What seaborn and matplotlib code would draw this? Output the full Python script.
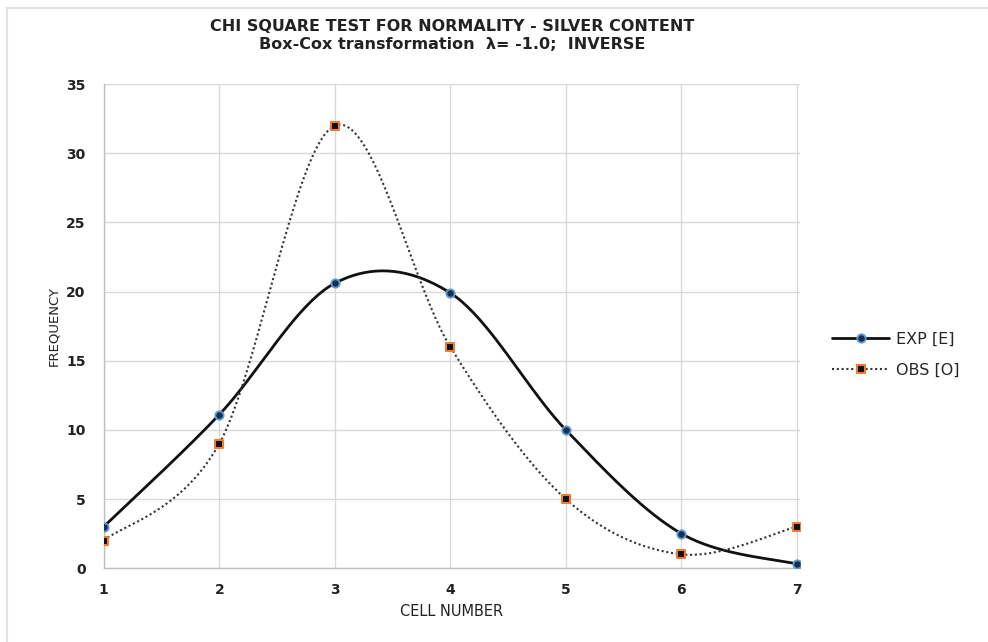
import numpy as np
import pandas as pd
import matplotlib
matplotlib.use("Agg")
import matplotlib.pyplot as plt
from matplotlib.lines import Line2D
import seaborn as sns

cells = [1, 2, 3, 4, 5, 6, 7]
exp_vals = [3.0, 11.1, 20.6, 19.9, 10.0, 2.5, 0.3]
obs_vals = [2, 9, 32, 16, 5, 1, 3]
y_ticks = [0, 5, 10, 15, 20, 25, 30, 35]

title = "CHI SQUARE TEST FOR NORMALITY - SILVER CONTENT\nBox-Cox transformation  \u03bb= -1.0;  INVERSE"


def smooth(xs, ys, n=40):
    # Catmull-Rom style smoothing as used by spreadsheet "smoothed lines"
    xs = np.asarray(xs, float)
    ys = np.asarray(ys, float)
    px = np.concatenate([[xs[0]], xs, [xs[-1]]])
    py = np.concatenate([[ys[0]], ys, [ys[-1]]])
    ox, oy = [], []
    for i in range(1, len(px) - 2):
        p0 = np.array([px[i - 1], py[i - 1]])
        p1 = np.array([px[i], py[i]])
        p2 = np.array([px[i + 1], py[i + 1]])
        p3 = np.array([px[i + 2], py[i + 2]])
        c1 = p1 + (p2 - p0) / 6.0
        c2 = p2 - (p3 - p1) / 6.0
        t = np.linspace(0, 1, n)[:, None]
        b = ((1 - t) ** 3) * p1 + 3 * ((1 - t) ** 2) * t * c1 + 3 * (1 - t) * t ** 2 * c2 + t ** 3 * p2
        ox.extend(b[:, 0]); oy.extend(b[:, 1])
    return np.array(ox), np.array(oy)


sns.set_theme(style="white")
plt.rcParams['font.family'] = ['DejaVu Sans']

fig = plt.figure(figsize=(9.88, 6.42), dpi=100)
ax = fig.add_axes([0.105, 0.115, 0.705, 0.754])

ex, ey = smooth(cells, exp_vals)
ox, oy = smooth(cells, obs_vals)
df_e = pd.DataFrame({"x": ex, "y": ey})
df_o = pd.DataFrame({"x": ox, "y": oy})

sns.lineplot(data=df_e, x="x", y="y", sort=False, estimator=None, color="#111111", lw=2.0, ax=ax, zorder=3)
sns.lineplot(data=df_o, x="x", y="y", sort=False, estimator=None, color="#333333", lw=1.5,
             linestyle=(0, (1, 1.3)), ax=ax, zorder=3)

pts = pd.DataFrame({"cell": cells, "exp": exp_vals, "obs": obs_vals})
sns.scatterplot(data=pts, x="cell", y="exp", marker="o", s=36, color="#1a2f4d",
                edgecolor="#5b9bd5", linewidth=1.3, ax=ax, zorder=4)
sns.scatterplot(data=pts, x="cell", y="obs", marker="s", s=36, color="#111111",
                edgecolor="#ed7d31", linewidth=1.5, ax=ax, zorder=4)

ax.set_xlim(1, 7.03)
ax.set_ylim(0, 35)
ax.set_xticks(cells)
ax.set_yticks(y_ticks)
ax.tick_params(axis='x', labelsize=10, length=0, pad=11)
ax.tick_params(axis='y', labelsize=10, length=0, pad=13)
for lab in ax.get_xticklabels() + ax.get_yticklabels():
    lab.set_fontweight("bold")
    lab.set_color("#222222")
ax.grid(True, color="#d9d9d9", lw=1.0)
ax.set_axisbelow(True)
for s in ["top", "right"]:
    ax.spines[s].set_visible(False)
for s in ["left", "bottom"]:
    ax.spines[s].set_color("#bfbfbf")
    ax.spines[s].set_linewidth(1.0)

ax.set_xlabel("CELL NUMBER", fontsize=10.5, color="#222222", labelpad=5)
ax.set_ylabel("FREQUENCY", fontsize=9.5, color="#222222", labelpad=4)
ax.set_title(title, fontsize=11.5, fontweight="bold", color="#222222", pad=25, linespacing=1.3)

handles = [
    Line2D([0], [0], color="#111111", lw=2.0, marker="o", markersize=6,
           markerfacecolor="#1a2f4d", markeredgecolor="#5b9bd5", markeredgewidth=1.3),
    Line2D([0], [0], color="#333333", lw=1.5, linestyle=(0, (1, 1.3)), marker="s", markersize=6,
           markerfacecolor="#111111", markeredgecolor="#ed7d31", markeredgewidth=1.5),
]
fig.legend(handles, ["EXP [E]", "OBS [O]"], loc="center left", bbox_to_anchor=(0.842, 0.448),
           frameon=False, fontsize=11.5, handlelength=3.6, labelspacing=1.0, handletextpad=0.4,
           borderpad=0, borderaxespad=0)

# outer frame: top and left edges
fig.add_artist(Line2D([0.007, 1.0], [0.988, 0.988], transform=fig.transFigure, color="#e3e3e3", lw=1.5))
fig.add_artist(Line2D([0.007, 0.007], [0.0, 0.988], transform=fig.transFigure, color="#e3e3e3", lw=1.5))

fig.savefig("out.png", dpi=100)
